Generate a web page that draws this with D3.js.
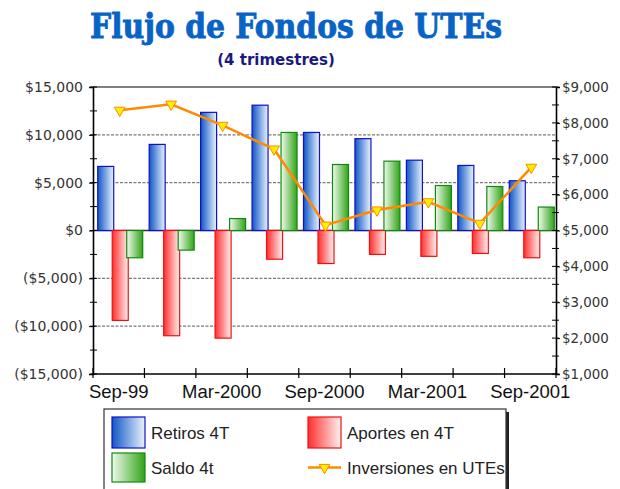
<!DOCTYPE html>
<html>
<head>
<meta charset="utf-8">
<script src="https://cdn.jsdelivr.net/npm/d3@7"></script>
<style>
  body { margin: 0; background: #fff; }
  svg { display: block; }
</style>
</head>
<body>
<div class="graph"></div>
<script>
// data ------------------
const quarters = ['Sep-99', 'Dec-99', 'Mar-2000', 'Jun-2000', 'Sep-2000', 'Dec-2000', 'Mar-2001', 'Jun-2001', 'Sep-2001']
const retiros = [6700, 9000, 12350, 13100, 10250, 9600, 7350, 6800, 5200]
const aportes = [-9400, -11000, -11250, -3000, -3450, -2500, -2700, -2400, -2850]
const saldo = [-2850, -2050, 1250, 10250, 6900, 7250, 4700, 4600, 2450]
const inversiones = [8350, 8520, 7930, 7270, 5150, 5570, 5800, 5200, 6760]
const leftTicks = [15000, 10000, 5000, 0, -5000, -10000, -15000]
const rightTicks = [9000, 8000, 7000, 6000, 5000, 4000, 3000, 2000, 1000]
const labelQuarters = ['Sep-99', 'Mar-2000', 'Sep-2000', 'Mar-2001', 'Sep-2001']

const w = 620
const h = 489
const plot = {left: 93, right: 556, top: 87, bottom: 374}

const colours = {
    title: '#0863c6',
    subtitle: '#1a1a7e',
    line: '#ff8a00',
    marker: '#ffee00',
    grid: '#7a7a7a'
}

const fmtLeft = v => v < 0 ? '($' + d3.format(',')(-v) + ')' : '$' + d3.format(',')(v)
const fmtRight = v => '$' + d3.format(',')(v)

const svg = d3.select('.graph')
    .append('svg')
    .attr('width', w)
    .attr('height', h)

// gradients
const defs = svg.append('defs')
function gradient(id, c1, c2) {
    const g = defs.append('linearGradient').attr('id', id)
        .attr('x1', '0%').attr('x2', '100%').attr('y1', '0%').attr('y2', '0%')
    g.append('stop').attr('offset', '0%').attr('stop-color', c1)
    g.append('stop').attr('offset', '100%').attr('stop-color', c2)
}
gradient('gBlue', '#1056c6', '#eaf4ff')
gradient('gRed', '#ff2e2e', '#fff2f2')
gradient('gGreen', '#f2faee', '#30a418')

const series = [
    {name: 'Retiros 4T', values: retiros, fill: 'url(#gBlue)', stroke: '#1010c8', offset: -13},
    {name: 'Aportes en 4T', values: aportes, fill: 'url(#gRed)', stroke: '#f01010', offset: 1.5},
    {name: 'Saldo 4t', values: saldo, fill: 'url(#gGreen)', stroke: '#118a11', offset: 16}
]

// scales
const x = d3.scaleBand()
    .domain(quarters)
    .range([plot.left, plot.right])
    .padding(0)

const yL = d3.scaleLinear()
    .domain([-15000, 15000])
    .range([plot.bottom, plot.top])

const yR = d3.scaleLinear()
    .domain([1000, 9000])
    .range([plot.bottom, plot.top])

const cx = q => x(q) + x.bandwidth() / 2
const barW = 16

// title
svg.append('text')
    .attr('x', 296)
    .attr('y', 38)
    .attr('text-anchor', 'middle')
    .attr('font-family', 'DejaVu Serif')
    .attr('font-weight', 'bold')
    .attr('font-size', 34)
    .attr('textLength', 412)
    .attr('lengthAdjust', 'spacingAndGlyphs')
    .attr('fill', colours.title)
    .attr('stroke', colours.title)
    .attr('stroke-width', 0.9)
    .text('Flujo de Fondos de UTEs')

svg.append('text')
    .attr('x', 276)
    .attr('y', 65)
    .attr('text-anchor', 'middle')
    .attr('font-family', 'DejaVu Sans')
    .attr('font-weight', 'bold')
    .attr('font-size', 15)
    .attr('fill', colours.subtitle)
    .text('(4 trimestres)')

// gridlines
svg.append('g')
    .selectAll('line.grid')
    .data(leftTicks.filter(t => t != 0 && Math.abs(t) != 15000))
    .join('line')
    .attr('class', 'grid')
    .attr('x1', plot.left).attr('x2', plot.right)
    .attr('y1', d => yL(d)).attr('y2', d => yL(d))
    .attr('stroke', colours.grid)
    .attr('stroke-width', 1.2)
    .attr('stroke-dasharray', '3,1.5')

// frame top
svg.append('line')
    .attr('x1', plot.left).attr('x2', plot.right)
    .attr('y1', plot.top).attr('y2', plot.top)
    .attr('stroke', '#555').attr('stroke-width', 1.5)

// zero line
svg.append('line')
    .attr('x1', plot.left).attr('x2', plot.right)
    .attr('y1', yL(0)).attr('y2', yL(0))
    .attr('stroke', '#333').attr('stroke-width', 1.5)

// bars
series.forEach(s => {
    svg.append('g')
        .selectAll('rect')
        .data(quarters.map((q, i) => ({q: q, v: s.values[i]})))
        .join('rect')
        .attr('x', d => cx(d.q) + s.offset - barW / 2)
        .attr('y', d => yL(Math.max(0, d.v)))
        .attr('width', barW)
        .attr('height', d => Math.abs(yL(d.v) - yL(0)))
        .attr('fill', s.fill)
        .attr('stroke', s.stroke)
        .attr('stroke-width', 1.2)
})

// line series
const lineGen = d3.line()
    .x((d, i) => cx(quarters[i]) + 1)
    .y(d => yR(d))

svg.append('path')
    .datum(inversiones)
    .attr('d', lineGen)
    .attr('fill', 'none')
    .attr('stroke', colours.line)
    .attr('stroke-width', 2.5)

const tri = d3.symbol().type(d3.symbolTriangle).size(50)
svg.append('g')
    .selectAll('path')
    .data(inversiones)
    .join('path')
    .attr('d', tri)
    .attr('transform', (d, i) => 'translate(' + (cx(quarters[i]) + 1) + ',' + yR(d) + ') rotate(180)')
    .attr('fill', colours.marker)
    .attr('stroke', colours.line)
    .attr('stroke-width', 1)

// axes
const leftAxis = d3.axisLeft(yL)
    .tickValues(leftTicks)
    .tickFormat(fmtLeft)
    .tickSizeOuter(0)
    .tickSize(4)
    .tickPadding(6)

const rightAxis = d3.axisRight(yR)
    .tickValues(rightTicks)
    .tickFormat(fmtRight)
    .tickSizeOuter(0)
    .tickSize(4)
    .tickPadding(2)

const gl = svg.append('g')
    .attr('transform', 'translate(' + plot.left + ',0)')
    .call(leftAxis)
gl.selectAll('text')
    .attr('font-family', 'DejaVu Sans')
    .attr('font-size', 14)
    .attr('fill', '#333')

const gr = svg.append('g')
    .attr('transform', 'translate(' + plot.right + ',0)')
    .call(rightAxis)
gr.selectAll('text')
    .attr('font-family', 'DejaVu Sans')
    .attr('font-size', 13.4)
    .attr('fill', '#333')

// crossing ticks (major + minor) on both y axes
const leftMinor = d3.range(-15000, 15001, 2500)
svg.append('g')
    .selectAll('line')
    .data(leftMinor)
    .join('line')
    .attr('x1', plot.left - 3).attr('x2', plot.left + 4)
    .attr('y1', d => yL(d)).attr('y2', d => yL(d))
    .attr('stroke', '#000')
const rightMinor = d3.range(1000, 9001, 500)
svg.append('g')
    .selectAll('line')
    .data(rightMinor)
    .join('line')
    .attr('x1', plot.right - 4).attr('x2', plot.right + 3)
    .attr('y1', d => yR(d)).attr('y2', d => yR(d))
    .attr('stroke', '#000')

;[gl, gr].forEach(g => g.select('.domain').attr('stroke-width', 1.6))

// x axis: ticks at band boundaries, labels on every other band
const boundaries = quarters.map(q => x(q)).concat([plot.right])
const gx = svg.append('g')
gx.append('line')
    .attr('x1', plot.left).attr('x2', plot.right)
    .attr('y1', plot.bottom).attr('y2', plot.bottom)
    .attr('stroke', '#000').attr('stroke-width', 1.6)
gx.selectAll('line.tick')
    .data(boundaries)
    .join('line')
    .attr('class', 'tick')
    .attr('x1', d => d).attr('x2', d => d)
    .attr('y1', plot.bottom - 6).attr('y2', plot.bottom + 4)
    .attr('stroke', '#000').attr('stroke-width', 1.2)
gx.selectAll('text')
    .data(labelQuarters)
    .join('text')
    .attr('x', d => cx(d))
    .attr('y', 398)
    .attr('text-anchor', 'middle')
    .attr('font-family', 'Liberation Sans')
    .attr('font-size', 18.5)
    .attr('fill', '#111')
    .text(d => d)

// legend
const legend = svg.append('g')
legend.append('rect')
    .attr('x', 107).attr('y', 412)
    .attr('width', 402).attr('height', 90)
    .attr('fill', '#222')
legend.append('rect')
    .attr('x', 104).attr('y', 409)
    .attr('width', 402).attr('height', 90)
    .attr('fill', '#fff')
    .attr('stroke', '#333')
    .attr('stroke-width', 1.2)

const legendItems = [
    {s: series[0], x: 112, y: 417, h: 31},
    {s: series[1], x: 308, y: 417, h: 31},
    {s: series[2], x: 112, y: 453, h: 29}
]
legendItems.forEach(it => {
    legend.append('rect')
        .attr('x', it.x).attr('y', it.y)
        .attr('width', 33).attr('height', it.h)
        .attr('fill', it.s.fill)
        .attr('stroke', it.s.stroke)
        .attr('stroke-width', 1.2)
    legend.append('text')
        .attr('x', it.x + 39).attr('y', it.y + it.h / 2 + 6)
        .attr('font-family', 'Liberation Sans')
        .attr('font-size', 17)
        .attr('fill', '#222')
        .text(it.s.name)
})
legend.append('line')
    .attr('x1', 308).attr('x2', 341)
    .attr('y1', 467.5).attr('y2', 467.5)
    .attr('stroke', colours.line).attr('stroke-width', 2.5)
legend.append('path')
    .attr('d', tri)
    .attr('transform', 'translate(324.5,467.5) rotate(180)')
    .attr('fill', colours.marker)
    .attr('stroke', colours.line)
legend.append('text')
    .attr('x', 347).attr('y', 473.5)
    .attr('font-family', 'Liberation Sans')
    .attr('font-size', 17)
    .attr('fill', '#222')
    .text('Inversiones en UTEs')
</script>
</body>
</html>
